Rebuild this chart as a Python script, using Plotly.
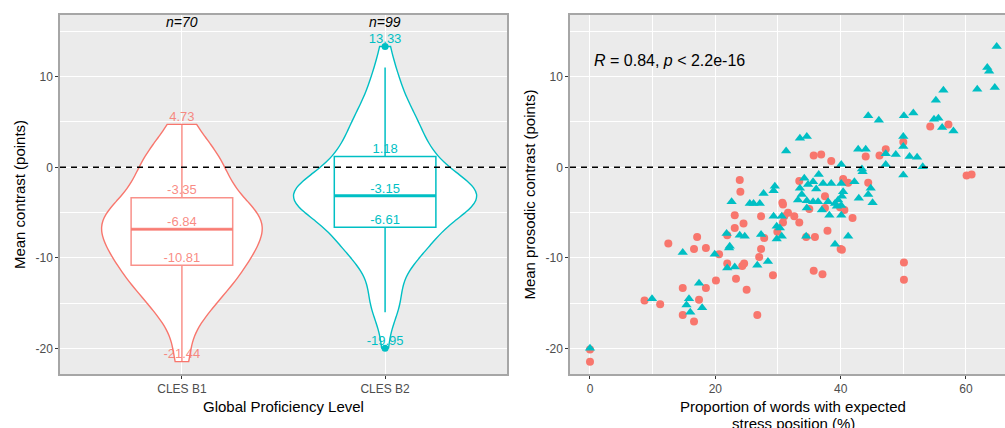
import numpy as np
import plotly.graph_objects as go

# ---- data ---------------------------------------------------------------
levels = ["CLES B1", "CLES B2"]
col_b1 = "#F8766D"
col_b2 = "#00BFC4"

# CLES B1 speakers: proportion of expected stress (%) and mean prosodic contrast
b1_x = [0, 0, 8.7, 11.2, 12.5, 14.8, 14.8, 17.1, 16.6, 18.5, 18.5, 17.4, 16.6, 20.1,
        20.6, 21.9, 21.9, 23.1, 23.1, 23.3, 23.9, 24.0, 24.5, 24.3, 24.6, 25.0, 26.7,
        27.3, 27.3, 27.0, 27.8, 29.2, 29.9, 30.7, 30.8, 31.6, 31.0, 30.8, 32.6, 33.4,
        33.4, 34.5, 35.0, 35.7, 36.9, 35.9, 35.7, 37.1, 38.5, 37.5, 37.5, 37.9, 40.4,
        41.2, 39.9, 40.6, 41.9, 40.0, 40.2, 44.0, 44.4, 46.2, 47.2, 50.0, 50.1, 50.1,
        54.3, 57.2, 60.1, 60.9]
b1_y = [-21.44, -20.1, -14.7, -15.1, -8.4, -13.3, -16.3, -7.7, -9.0, -8.9, -13.3, -14.6,
        -17.0, -12.5, -9.6, -7.5, -10.6, -5.3, -6.7, -12.3, -1.4, -2.7, -6.2, -10.9,
        -10.6, -13.5, -16.3, -5.4, -9.0, -9.9, -7.8, -11.9, -7.1, -3.9, -4.1, -5.0,
        -5.4, -6.1, -5.4, -1.5, -6.1, -7.7, -4.6, 1.3, 1.4, -7.7, -11.4, -11.8, 0.7,
        -3.2, -4.5, -7.0, -1.3, -1.7, -4.4, -4.7, -5.6, -9.0, -9.1, 1.2, -1.7, 1.3,
        2.0, 2.8, -10.5, -12.4, 4.5, 4.73, -0.9, -0.8]

# CLES B2 speakers
b2_x = [64.9, 63.4, 63.7, 64.6, 61.8, 56.4, 55.2, 54.9, 55.6, 56.2, 58.0, 51.6, 50.1,
        44.4, 46.1, 33.5, 34.6, 31.3, 50.0, 50.0, 42.8, 44.0, 47.2, 48.8, 51.0, 52.2,
        47.2, 53.1, 50.0, 40.1, 43.4, 43.5, 42.2, 44.8, 44.4, 42.9, 45.1, 41.2, 39.1,
        40.1, 40.4, 40.2, 39.6, 39.1, 40.1, 40.1, 38.5, 37.2, 38.0, 38.2, 36.5, 35.6,
        36.1, 34.8, 34.2, 33.5, 33.8, 33.2, 34.6, 35.6, 36.4, 34.6, 37.0, 39.4, 34.5,
        29.5, 29.3, 27.7, 27.1, 26.1, 25.5, 22.6, 30.6, 29.3, 29.8, 30.3, 30.6, 29.8,
        27.3, 23.9, 24.7, 21.8, 22.3, 22.2, 21.9, 23.1, 26.7, 28.4, 19.9, 14.8, 9.9,
        17.4, 15.4, 15.8, 16.0, 17.9, 0]
b2_y = [13.33, 11.0, 10.6, 8.8, 8.6, 8.5, 7.4, 5.3, 5.4, 4.4, 4.0, 6.0, 5.7, 5.7, 5.2,
        3.2, 3.4, 1.8, 3.4, 2.3, 2.0, 2.0, 1.5, 1.4, 1.2, 1.1, 0.3, 0.05, -0.85, 0.3,
        -0.2, -0.5, -1.6, -2.3, -3.0, -3.4, -3.9, -7.6, -8.5, -1.8, -2.7, -3.2, -3.6,
        -4.0, -4.2, -5.3, -1.8, -1.8, -3.8, -5.3, -0.8, -1.6, -2.4, -1.9, -1.2, -2.3,
        -3.0, -3.6, -3.7, -3.8, -3.8, -4.5, -4.7, -4.3, -7.6, -2.1, -2.6, -2.9, -4.0,
        -4.0, -4.0, -3.8, -5.4, -5.4, -6.5, -6.7, -7.6, -7.9, -7.4, -7.5, -7.6, -7.3,
        -8.7, -8.9, -11.1, -11.0, -10.8, -10.4, -9.6, -9.4, -14.5, -12.8, -15.2, -14.5,
        -16.0, -15.5, -19.95]

# Box summaries: [lower whisker, Q1, median, Q3, upper whisker]
b1_box = [-21.44, -10.81, -6.84, -3.35, 4.73]
b2_box = [-16.0, -6.61, -3.15, 1.18, 11.0]
b2_outliers = [13.33, -19.95]

# Values printed on each box plot
b1_labels = [4.73, -3.35, -6.84, -10.81, -21.44]
b2_labels = [13.33, 1.18, -3.15, -6.61, -19.95]

group_n = ["n=70", "n=99"]
stat_text = "<i>R</i> = 0.84, <i>p</i> &lt; 2.2e-16"
left_xtitle = "Global Proficiency Level"
right_xtitle_lines = ["Proportion of words with expected", "stress position (%)"]

# ---- helpers ------------------------------------------------------------
def nrd0(v):
    v = np.asarray(v, dtype=float)
    sd = v.std(ddof=1)
    iqr = np.subtract(*np.percentile(v, [75, 25]))
    return 0.9 * min(sd, iqr / 1.34) * len(v) ** -0.2

W, H = 1005, 428
FONT = "Liberation Sans, Arial, sans-serif"
PANEL = "#EBEBEB"
BORDER = "#A6A6A6"
TICK = "#4D4D4D"
BOX_W = 0.5

fig = go.Figure()

# ---- left panel: violins + boxes -----------------------------------------
# violins scaled to equal area: the peakier group gets the full width
for pos, ys, col, w in [(1, b1_y, col_b1, 0.79), (2, b2_y, col_b2, 0.9)]:
    fig.add_trace(go.Violin(
        x0=pos, y=ys, orientation="v", width=w,
        scalemode="width", spanmode="hard",
        bandwidth=nrd0(ys), fillcolor="white",
        line=dict(color=col, width=1.4), points=False,
        box_visible=False, meanline_visible=False,
        showlegend=False, hoverinfo="skip", xaxis="x", yaxis="y"))

for pos, st, col in [(1, b1_box, "rgba(248,118,109,0.8)"), (2, b2_box, col_b2)]:
    fig.add_trace(go.Box(
        x=[pos], lowerfence=[st[0]], q1=[st[1]], median=[st[2]], q3=[st[3]],
        upperfence=[st[4]], orientation="v", width=BOX_W, whiskerwidth=0,
        fillcolor="rgba(0,0,0,0)", line=dict(color=col, width=1.5),
        boxpoints=False, showlegend=False, hoverinfo="skip",
        xaxis="x", yaxis="y"))
    # thicker median bar
    fig.add_trace(go.Scatter(
        x=[pos - BOX_W / 2, pos + BOX_W / 2], y=[st[2], st[2]], mode="lines",
        line=dict(color=col, width=3), showlegend=False, hoverinfo="skip",
        xaxis="x", yaxis="y"))

fig.add_trace(go.Scatter(
    x=[2] * len(b2_outliers), y=b2_outliers, mode="markers",
    marker=dict(color=col_b2, size=7), showlegend=False, hoverinfo="skip",
    xaxis="x", yaxis="y"))

for pos, vals, col in [(1, b1_labels, "rgba(248,118,109,0.85)"), (2, b2_labels, col_b2)]:
    fig.add_trace(go.Scatter(
        x=[pos] * len(vals), y=vals, mode="text",
        text=[f"{v:.2f}" for v in vals], textposition="top center",
        textfont=dict(family=FONT, size=13, color=col),
        showlegend=False, hoverinfo="skip", xaxis="x", yaxis="y"))

for pos, lab in zip([1, 2], group_n):
    fig.add_annotation(x=pos, y=16.0, xref="x", yref="y", text=f"<i>{lab}</i>",
                       showarrow=False, font=dict(family=FONT, size=14, color="black"))

# ---- right panel: scatter -------------------------------------------------
fig.add_trace(go.Scatter(
    x=b1_x, y=b1_y, mode="markers",
    marker=dict(symbol="circle", color=col_b1, size=8),
    showlegend=False, hoverinfo="skip", xaxis="x2", yaxis="y2"))
fig.add_trace(go.Scatter(
    x=b2_x, y=b2_y, mode="markers",
    marker=dict(symbol="triangle-up", color=col_b2, size=9),
    showlegend=False, hoverinfo="skip", xaxis="x2", yaxis="y2"))

fig.add_annotation(x=0.3, y=11.8, xref="x2", yref="y2", text=stat_text,
                   showarrow=False, xanchor="left", yanchor="middle",
                   font=dict(family=FONT, size=16, color="black"))

# zero reference lines
for xr, yr in [("x domain", "y"), ("x2 domain", "y2")]:
    fig.add_shape(type="line", xref=xr, yref=yr, x0=0, x1=1, y0=0, y1=0,
                  line=dict(color="black", width=1.4, dash="6px,5px"))

# x-axis titles, placed under each panel
title_font = dict(family=FONT, size=15, color="black")
fig.add_annotation(x=283.5 / W, y=1 - 406 / H, xref="paper", yref="paper",
                   text=left_xtitle, showarrow=False, xanchor="center",
                   yanchor="middle", font=title_font)
for line_txt, ypix in zip(right_xtitle_lines, [406, 423]):
    fig.add_annotation(x=793 / W, y=1 - ypix / H, xref="paper", yref="paper",
                       text=line_txt, showarrow=False, xanchor="center",
                       yanchor="middle", font=title_font)

# ---- axes -----------------------------------------------------------------
ydom = [1 - 374 / H, 1 - 15 / H]
y_ticks = [10, 0, -10, -20]
y_common = dict(
    range=[-22.8, 16.8], tickvals=y_ticks, ticktext=[str(t) for t in y_ticks],
    showgrid=True, gridcolor="white", gridwidth=1.2, zeroline=False,
    minor=dict(tickvals=[15, 5, -5, -15], showgrid=True, gridcolor="white",
               gridwidth=0.6, ticks=""),
    ticks="outside", ticklen=3, tickcolor="#333333", tickwidth=1,
    tickfont=dict(family=FONT, size=12, color=TICK),
    showline=True, linecolor=BORDER, linewidth=1.5, automargin=False,
    title_font=dict(family=FONT, size=15, color="black"), title_standoff=6,
)

fig.update_layout(
    width=W, height=H, margin=dict(l=0, r=0, t=0, b=0, autoexpand=False),
    paper_bgcolor="white", plot_bgcolor=PANEL,
    violinmode="overlay", boxmode="overlay",
    font=dict(family=FONT),
    xaxis=dict(
        domain=[60 / W, 507 / W], range=[0.4, 2.6],
        tickvals=[1, 2], ticktext=levels, showgrid=True, gridcolor="white",
        gridwidth=1.2, zeroline=False, ticks="outside", ticklen=3,
        automargin=False,
        tickcolor="#333333", tickfont=dict(family=FONT, size=12, color=TICK),
        showline=True, mirror=True, linecolor=BORDER, linewidth=1.5,
        anchor="y"),
    yaxis=dict(domain=ydom, anchor="x", mirror=True,
               title=dict(text="Mean contrast (points)"), **y_common),
    xaxis2=dict(
        domain=[570 / W, 1.0], range=[-3.19, 66.23],
        tickvals=[0, 20, 40, 60], ticktext=["0", "20", "40", "60"],
        showgrid=True, gridcolor="white", gridwidth=1.2, zeroline=False,
        minor=dict(tickvals=[10, 30, 50], showgrid=True, gridcolor="white",
                   gridwidth=0.6, ticks=""),
        ticks="outside", ticklen=3, tickcolor="#333333",
        tickfont=dict(family=FONT, size=12, color=TICK), automargin=False,
        showline=True, mirror=True, linecolor=BORDER, linewidth=1.5,
        anchor="y2"),
    yaxis2=dict(domain=ydom, anchor="x2", mirror=False,
                title=dict(text="Mean prosodic contrast (points)"), **y_common),
)

fig.write_html("out.html")
